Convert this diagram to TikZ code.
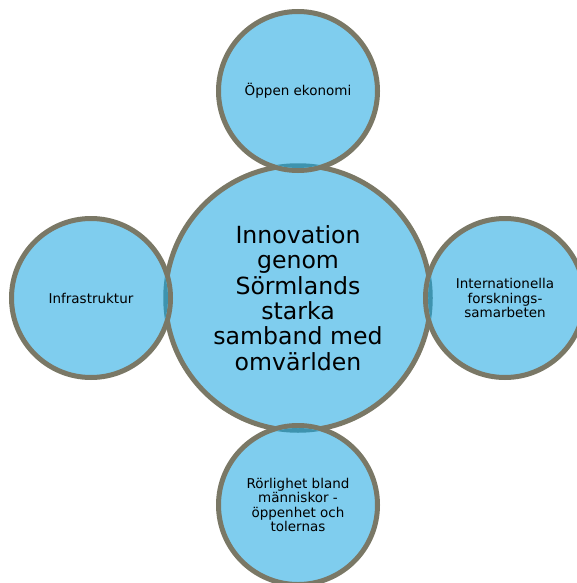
\documentclass[tikz,border=0pt]{standalone}
\usepackage{fontspec}
\setmainfont{DejaVu Sans}
\definecolor{bubble}{HTML}{7FCDEE}
\definecolor{rim}{HTML}{7A7866}
\definecolor{seam}{HTML}{3E93AE}

\begin{document}
\begin{tikzpicture}[x=1pt,y=-1pt,
  hub/.style={circle,fill=bubble,draw=rim,line width=5pt,minimum size=265pt,
    inner sep=0pt,align=center,font=\fontsize{23.6}{25.3}\selectfont},
  sat/.style={circle,fill=bubble,draw=rim,line width=5pt,minimum size=159pt,
    inner sep=0pt,align=center,font=\fontsize{13.5}{14.6}\selectfont}]
  \useasboundingbox (0,0) rectangle (577,583);

  \node[hub] (hub) at (298,298) {Innovation\\genom\\Sörmlands\\starka\\samband med\\omvärlden};

  \node[sat] (oppen) at (298,91) {Öppen ekonomi};
  \node[sat] (infra) at (91,298) {Infrastruktur};
  \node[sat] (forsk) at (505,298) {Internationella\\forsknings-\\samarbeten};
  \node[sat] (rorlig) at (298,505) {Rörlighet bland\\människor -\\öppenhet och\\tolernas};

  % hub rim seen through each outer circle
  \foreach \s in {oppen,infra,forsk,rorlig} {
    \begin{scope}
      \clip (\s.center) circle (77pt);
      \draw[seam,line width=4.5pt] (hub.center) circle (132.5pt);
    \end{scope}
  }
\end{tikzpicture}
\end{document}
